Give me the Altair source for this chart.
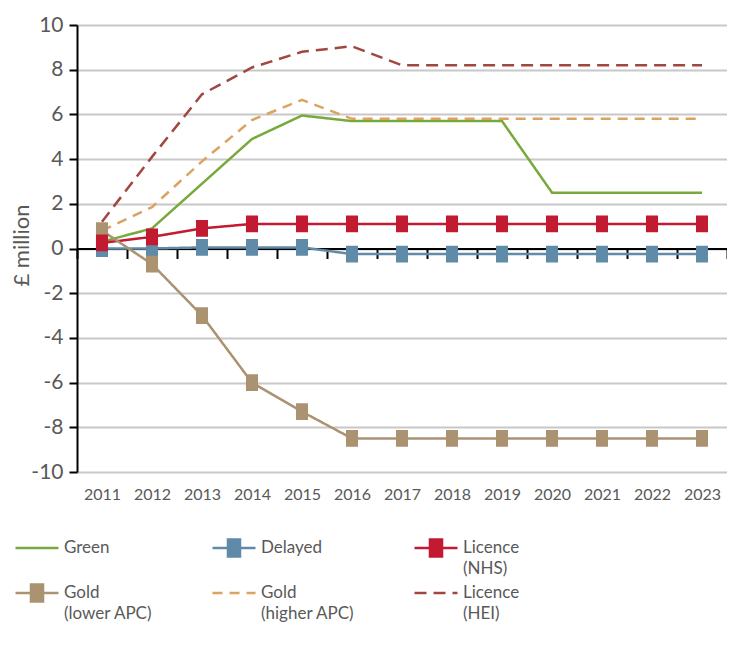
import altair as alt
import pandas as pd

years = [str(y) for y in range(2011, 2024)]
series = ["Green", "Delayed", "Licence (NHS)", "Gold (lower APC)",
          "Gold (higher APC)", "Licence (HEI)"]

green = [0.3, 0.9, 2.9, 4.9, 5.95, 5.7, 5.7, 5.7, 5.7, 2.5, 2.5, 2.5, 2.5]
delayed = [0.0, 0.0, 0.05, 0.05, 0.05, -0.25, -0.25, -0.25, -0.25, -0.25, -0.25, -0.25, -0.25]
licence_nhs = [0.25, 0.52, 0.9, 1.1, 1.1, 1.1, 1.1, 1.1, 1.1, 1.1, 1.1, 1.1, 1.1]
gold_lower = [0.8, -0.7, -3.0, -6.0, -7.3, -8.5, -8.5, -8.5, -8.5, -8.5, -8.5, -8.5, -8.5]
gold_higher = [0.8, 1.85, 3.9, 5.75, 6.65, 5.8, 5.8, 5.8, 5.8, 5.8, 5.8, 5.8, 5.8]
licence_hei = [1.2, 4.1, 6.9, 8.1, 8.8, 9.05, 8.2, 8.2, 8.2, 8.2, 8.2, 8.2, 8.2]

values = [green, delayed, licence_nhs, gold_lower, gold_higher, licence_hei]
marker_series = ["Delayed", "Gold (lower APC)", "Licence (NHS)"]

colors = ["#77A93B", "#5F8AA8", "#C21A30", "#AB9270", "#DCA35F", "#A2473F"]
dashes = [[1, 0], [1, 0], [1, 0], [1, 0], [10, 7], [12, 7]]
line_only = "M-2,0H2"
line_square = "M-2,0H2M-0.56,-0.78H0.56V0.78H-0.56Z"
shapes = [line_only, line_square, line_square, line_square, line_only, line_only]

rows = []
for s, vals in zip(series, values):
    for yr, v in zip(years, vals):
        rows.append({"year": yr, "series": s, "value": v})
df = pd.DataFrame(rows)
df_markers = pd.concat([df[df["series"] == s] for s in marker_series])

FONT = "Lato"
GREY = "#595959"

legend = alt.Legend(
    title=None, orient="none", legendX=-63, legendY=511, direction="horizontal",
    columns=3, columnPadding=54, rowPadding=2, padding=0,
    symbolSize=462, symbolStrokeWidth=2.5, symbolOffset=11,
    labelFont=FONT, labelFontSize=17, labelColor=GREY, labelOffset=15, labelLimit=0,
    labelExpr="indexof(datum.label, ' (') > 0 ? [substring(datum.label, 0, indexof(datum.label, ' (')), substring(datum.label, indexof(datum.label, ' (') + 1)] : [datum.label, '']",
)

x_enc = alt.X(
    "year:O",
    scale=alt.Scale(type="band", domain=years, paddingInner=0, paddingOuter=0),
    axis=alt.Axis(
        title=None, orient="bottom", offset=-223.5, tickBand="extent",
        tickSize=10, tickColor="black", tickWidth=2,
        domainColor="black", domainWidth=2, grid=False,
        labelPadding=228, labelFont=FONT, labelFontSize=16, labelColor=GREY,
        labelAngle=0,
    ),
)
y_enc = alt.Y(
    "value:Q",
    scale=alt.Scale(domain=[-10, 10], nice=False, zero=False),
    axis=alt.Axis(
        title="£ million", values=list(range(-10, 11, 2)),
        labelExpr="'' + datum.value",
        tickSize=8, tickColor="black", tickWidth=2,
        domainColor="black", domainWidth=2,
        grid=True, gridColor="#C8C8C8", gridWidth=2,
        labelFont=FONT, labelFontSize=21, labelColor=GREY, labelPadding=6,
        titleFont=FONT, titleFontSize=22, titleColor=GREY, titleFontWeight="normal",
        titleX=-44, titleY=220, titleBaseline="bottom",
    ),
)

color_enc = alt.Color("series:N", scale=alt.Scale(domain=series, range=colors), legend=legend)

lines = alt.Chart(df).mark_line(strokeWidth=2.5).encode(
    x=x_enc, y=y_enc, color=color_enc,
    strokeDash=alt.StrokeDash("series:N", scale=alt.Scale(domain=series, range=dashes), legend=legend),
    detail="series:N",
)

points = alt.Chart(df_markers).mark_point(filled=True, size=462, opacity=1).encode(
    x=x_enc, y=y_enc, color=color_enc,
    shape=alt.Shape("series:N", scale=alt.Scale(domain=series, range=shapes), legend=legend),
)

chart = alt.layer(lines, points).properties(
    width=650, height=447,
    autosize=alt.AutoSizeParams(type="none"),
    padding={"left": 69, "top": 17, "right": 0, "bottom": 165},
    background="white",
).configure(style={"guide-label": {"lineHeight": 21}}).configure_view(stroke=None)

chart.save("out.html", embed_options={"renderer": "svg", "actions": False})
